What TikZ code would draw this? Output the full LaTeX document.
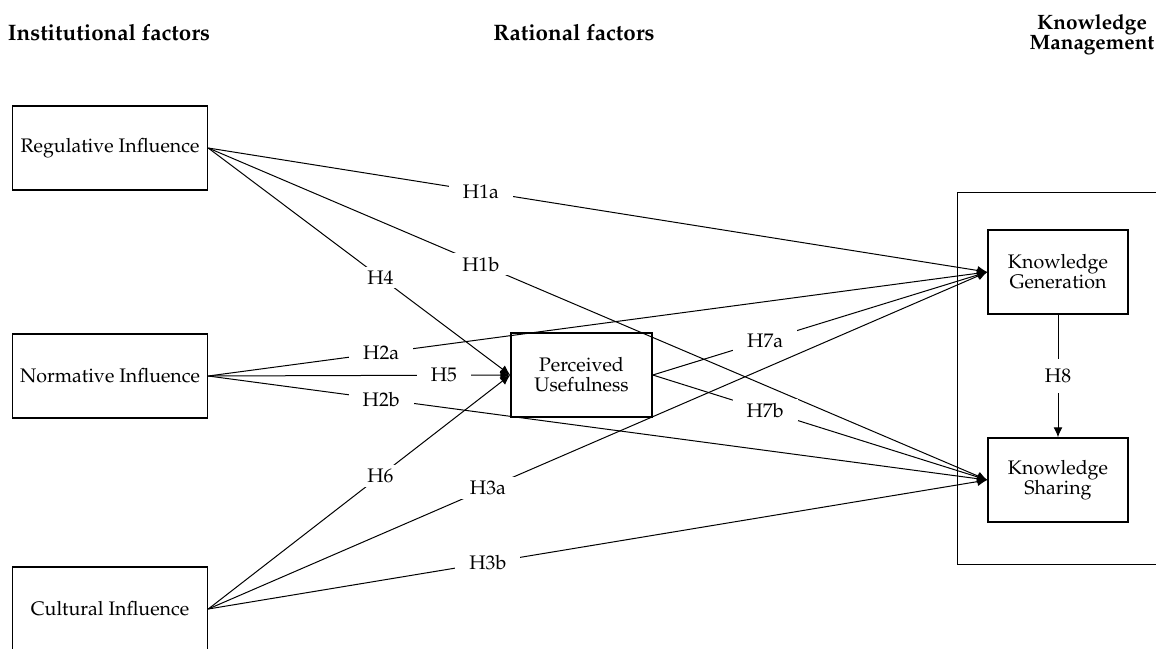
\documentclass[tikz,border=0pt]{standalone}
\usepackage[T1]{fontenc}
\usepackage{mathpazo}
\usetikzlibrary{arrows.meta}
\tikzset{
  box/.style={draw, line width=0.75pt, align=center, inner sep=0pt},
  srcbox/.style={box, minimum width=97.5pt, minimum height=42pt},
  tgtbox/.style={box, minimum width=70.5pt, minimum height=42pt},
  title/.style={align=center, font=\fontsize{11.2}{10}\selectfont\bfseries},
  hyp/.style={fill=white, inner xsep=7pt, inner ysep=2pt},
  link/.style={line width=0.5pt, -{Latex[length=5pt,width=4.5pt]}},
}
\begin{document}
\begin{tikzpicture}[x=0.5pt,y=-0.5pt,font=\fontsize{9.8}{10}\selectfont]
\useasboundingbox (0,0) rectangle (1156,648);
\clip (0,0) rectangle (1156,648);
% titles
\node[title] (t1) at (109,33) {Institutional factors};
\node[title] (t2) at (574,33) {Rational factors};
\node[title, font=\fontsize{10.4}{10}\selectfont\bfseries] (t3) at (1092,35) {Knowledge\\Management};
% outer KM frame
\draw[line width=0.5pt] (957,192) rectangle (1170,564);
% boxes
\node[srcbox] (reg) at (110,148) {Regulative Influence};
\node[srcbox] (nor) at (110,376) {Normative Influence};
\node[srcbox] (cul) at (110,609) {Cultural Influence};
\node[tgtbox] (pu) at (581.5,375) {Perceived\\Usefulness};
\node[tgtbox, minimum width=70pt] (kg) at (1058,272) {Knowledge\\Generation};
\node[tgtbox, minimum width=70pt] (ks) at (1058,480) {Knowledge\\Sharing};
% connectors
\draw[link] (reg.east) -- node[hyp, pos=0.35] {H1a} (kg.west);
\draw[link] (reg.east) -- node[hyp, pos=0.35] {H1b} (ks.west);
\draw[link] (reg.east) -- node[hyp, pos=0.57] {H4} (pu.west);
\draw[link] (nor.east) -- node[hyp, pos=0.222] {H2a} (kg.west);
\draw[link] (nor.east) -- node[hyp, pos=0.78] {H5} (pu.west);
\draw[link] (nor.east) -- node[hyp, pos=0.222] {H2b} (ks.west);
\draw[link] (cul.east) -- node[hyp, pos=0.57] {H6} (pu.west);
\draw[link] (cul.east) -- node[hyp, pos=0.359] {H3a} (kg.west);
\draw[link] (cul.east) -- node[hyp, pos=0.359] {H3b} (ks.west);
\draw[link] (pu.east) -- node[hyp, pos=0.336] {H7a} (kg.west);
\draw[link] (pu.east) -- node[hyp, pos=0.336] {H7b} (ks.west);
\draw[link] (kg.south) -- node[hyp, inner xsep=2pt, inner ysep=5pt] {H8} (ks.north);
\end{tikzpicture}
\end{document}
